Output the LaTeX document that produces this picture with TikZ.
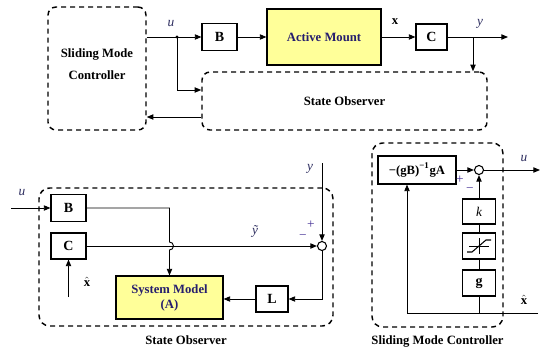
\documentclass[tikz,border=0pt]{standalone}
\usepackage{fontspec}
\setmainfont{Liberation Serif}
\usetikzlibrary{arrows.meta}
\definecolor{mountfill}{RGB}{255,255,153}
\definecolor{navytext}{RGB}{38,30,110}
\definecolor{signcol}{RGB}{70,50,150}
\definecolor{varcol}{RGB}{45,45,95}
\begin{document}
\begin{tikzpicture}[x=0.75pt, y=-0.75pt, >={Triangle[length=5pt,width=4pt]},
    font=\fontsize{9.5}{11}\selectfont\bfseries, line width=0.7pt,
    block/.style={draw, line width=0.8pt, inner sep=0pt, fill=white, font=\fontsize{10.5}{12}\selectfont\bfseries},
    plant/.style={block, fill=mountfill, text=navytext, font=\fontsize{9.5}{11}\selectfont\bfseries},
    dashbox/.style={draw, line width=1.1pt, dash pattern=on 3.75pt off 3pt, rounded corners=6pt, inner sep=0pt},
    sumpt/.style={circle, draw, line width=0.8pt, fill=white, minimum size=6.75pt, inner sep=0pt},
    var/.style={font=\fontsize{10}{12}\selectfont\itshape, text=varcol, inner sep=1pt},
    sign/.style={font=\fontsize{10}{12}\selectfont, text=signcol, inner sep=0pt}]
  \useasboundingbox (0,0) rectangle (547,347);

  % closed loop
  \node[dashbox, minimum width=73.5pt, minimum height=92.25pt] (smc) at (97,68.5) {};
  \node[align=center, font=\fontsize{9.5}{16.5}\selectfont\bfseries] (smctxt) at (97,64) {Sliding Mode\\Controller};
  \node[block, minimum width=26.25pt, minimum height=20.25pt] (b1) at (219.5,37) {B};
  \node[plant, minimum width=85.5pt, minimum height=42pt] (am) at (324,37) {Active Mount};
  \node[block, minimum width=23.25pt, minimum height=19.5pt] (c1) at (431.5,37) {C};
  \node[dashbox, minimum width=213.75pt, minimum height=43.5pt] (so1) at (344.5,101) {State Observer};
  \coordinate (ujoin) at (177,37);
  \coordinate (yjoin) at (473,37);
  \coordinate (yout) at (508,37);
  \draw [->] (smc.east |- ujoin) -- (b1);
  \fill (ujoin) circle (1.6);
  \draw [->] (ujoin) |- ([yshift=8.25pt]so1.west);
  \draw [->] ([yshift=-12pt]so1.west) -- ([yshift=-12pt]so1.west -| smc.east);
  \draw [->] (b1) -- (am);
  \draw [->] (am) -- (c1);
  \draw [->] (c1) -- (yout);
  \draw [->] (yjoin) -- (yjoin |- so1.north);
  \node[var] (ulab1) at (171,24) {u};
  \node (xlab1) at (395,22) {x};
  \node[var] (ylab1) at (480,24) {y};

  % state observer
  \node[dashbox, rounded corners=8pt, minimum width=220.5pt, minimum height=103.5pt,
    label={[name=solab, label distance=3pt]below:State Observer}] (so2) at (186,257) {};
  \node[block, minimum width=26.25pt, minimum height=20.25pt] (b2) at (68.5,208) {B};
  \node[block, minimum width=26.25pt, minimum height=19.5pt] (c2) at (68.5,246) {C};
  \node[plant, minimum width=80.25pt, minimum height=32.25pt, align=center,
    font=\fontsize{9.5}{11.25}\selectfont\bfseries] (sm) at (169.5,297.5) {System Model\\(A)};
  \node[block, minimum width=24pt, minimum height=19.5pt] (l) at (272,299) {L};
  \node[sumpt] (sum1) at (322,246) {};
  \coordinate (uin) at (11,208);
  \coordinate (yin) at (322,163);
  \coordinate (xin1) at (68.5,297);
  \draw [->] (uin) -- (b2);
  \draw [->] (b2) -| ([yshift=3pt]sm.north |- c2) arc[start angle=90, end angle=-90, radius=3pt] -- (sm);
  \draw [->] (c2) -- (sum1);
  \draw [->] (yin) -- (sum1);
  \draw [->] (sum1) |- (l);
  \draw [->] (l) -- (sm.east |- l);
  \draw [->] (xin1) -- (c2);
  \node[var] (ulab2) at (22,193) {u};
  \node[var] (ytlab) at (255,231) {ỹ};
  \node[var] (ylab2) at (310,169) {y};
  \node[sign] (plus1) at (311,225) {+};
  \node[sign] (minus1) at (303,237) {−};
  \node (xhlab1) at (87,282) {$\hat{\mathbf{x}}$};

  % sliding mode controller
  \node[dashbox, rounded corners=8pt, minimum width=98.25pt, minimum height=138pt,
    label={[name=smclab, label distance=2pt]below:Sliding Mode Controller}] (smc2) at (437.5,235) {};
  \node[block, minimum width=58.5pt, minimum height=21pt, font=\fontsize{9.5}{11}\selectfont\bfseries] (gain) at (417,170) {−(gB)\textsuperscript{−1}gA};
  \node[sumpt] (sum2) at (479,170) {};
  \node[block, minimum width=24.75pt, minimum height=18.75pt, font=\fontsize{10}{12}\selectfont\itshape] (k) at (479,211.5) {k};
  \node[block, minimum width=24.75pt, minimum height=19.5pt] (sat) at (479,246) {};
  \node[block, minimum width=24.75pt, minimum height=19.5pt] (g) at (479,283) {g};
  \draw [line width=0.5pt] ([xshift=-7.5pt]sat.center) -- ([xshift=7.5pt]sat.center);
  \draw [line width=0.5pt] ([yshift=-6pt]sat.center) -- ([yshift=6pt]sat.center);
  \draw [line width=0.8pt] ([shift={(-12,6)}]sat.center) -- ++(5,0) -- ++(14,-12) -- ++(5,0);
  \coordinate (xin2) at (538,313);
  \coordinate (uout) at (540,170);
  \draw [->] (gain) -- (sum2);
  \draw [->] (sum2) -- (uout);
  \draw [->] (k) -- (sum2);
  \draw (k) -- (sat) -- (g) -- (g |- xin2);
  \draw [->] (xin2) -| ([xshift=-7.5pt]gain.south);
  \node[var] (ulab3) at (524,159) {u};
  \node (xhlab2) at (524,300) {$\hat{\mathbf{x}}$};
  \node[sign] (plus2) at (460,180) {+};
  \node[sign] (minus2) at (470,190) {−};
\end{tikzpicture}
\end{document}
